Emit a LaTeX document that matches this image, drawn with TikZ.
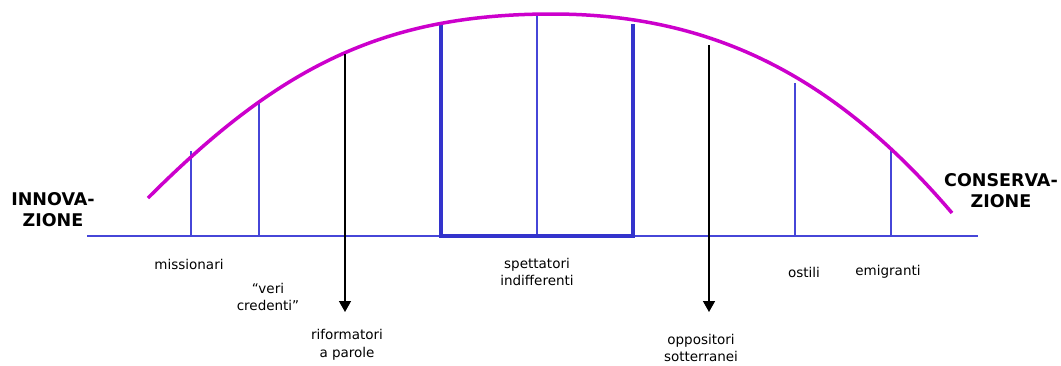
\documentclass[tikz,border=0pt]{standalone}
\usepackage{fontspec}
\setmainfont{DejaVu Sans}
\usetikzlibrary{arrows.meta}
\definecolor{thinblue}{HTML}{4646D8}
\definecolor{thickblue}{HTML}{3333CC}
\definecolor{arcmag}{HTML}{CC00CC}
\tikzset{
  thinline/.style={draw=thinblue, line width=1.3pt},
  thickline/.style={draw=thickblue, line width=4pt},
  arcline/.style={draw=arcmag, line width=3.5pt},
  downarrow/.style={draw=black, line width=1.5pt, -{Triangle[width=12pt,length=11pt]}},
  lbl/.style={inner sep=0pt, align=center, font=\fontsize{13.5}{17.5}\selectfont},
  bigl/.style={inner sep=0pt, align=center, font=\fontsize{17.5}{21}\selectfont\bfseries},
}
\begin{document}
\begin{tikzpicture}[x=1pt,y=-1pt]
\useasboundingbox (0,0) rectangle (1061,365);
% base line
\coordinate (bl) at (87,236);
\coordinate (br) at (978,236);
\draw[thinline] (bl) -- (br);
% thin verticals
\coordinate (v1t) at (191,151); \coordinate (v1b) at (191,236);
\coordinate (v2t) at (259,103); \coordinate (v2b) at (259,236);
\coordinate (v3t) at (537,15);  \coordinate (v3b) at (537,236);
\coordinate (v4t) at (795,83);  \coordinate (v4b) at (795,236);
\coordinate (v5t) at (891,150); \coordinate (v5b) at (891,236);
\draw[thinline] (v1t) -- (v1b);
\draw[thinline] (v2t) -- (v2b);
\draw[thinline] (v3t) -- (v3b);
\draw[thinline] (v4t) -- (v4b);
\draw[thinline] (v5t) -- (v5b);
% thick bracket
\coordinate (kLt) at (441,26); \coordinate (kLb) at (441,236);
\coordinate (kRt) at (633,26); \coordinate (kRb) at (633,236);
\draw[thickline, line cap=rect] (kLt) -- (kLb) -- (kRb) -- (kRt);
% arc
\coordinate (arcL) at (148,198);
\coordinate (arcT) at (552,14);
\coordinate (arcR) at (952,213);
\draw[arcline] (arcL) .. controls (278,68) and (382,14) .. (arcT)
               .. controls (712,14) and (835,76) .. (arcR);
% arrows
\coordinate (a1s) at (345,54); \coordinate (a1e) at (345,312);
\coordinate (a2s) at (709,45); \coordinate (a2e) at (709,312);
\draw[downarrow] (a1s) -- (a1e);
\draw[downarrow] (a2s) -- (a2e);
% labels
\node[bigl] (inn) at (53,210) {INNOVA-\\ZIONE};
\node[bigl] (con) at (1001,191) {CONSERVA-\\ZIONE};
\node[lbl] (mis) at (189,264) {missionari};
\node[lbl] (ver) at (268,297) {“veri\\credenti”};
\node[lbl] (rif) at (347,345) {riformatori\\a parole};
\node[lbl] (spe) at (537,272) {spettatori\\indifferenti};
\node[lbl] (opp) at (701,348) {oppositori\\sotterranei};
\node[lbl] (ost) at (804,272) {ostili};
\node[lbl] (emi) at (888,272) {emigranti};
\end{tikzpicture}
\end{document}
